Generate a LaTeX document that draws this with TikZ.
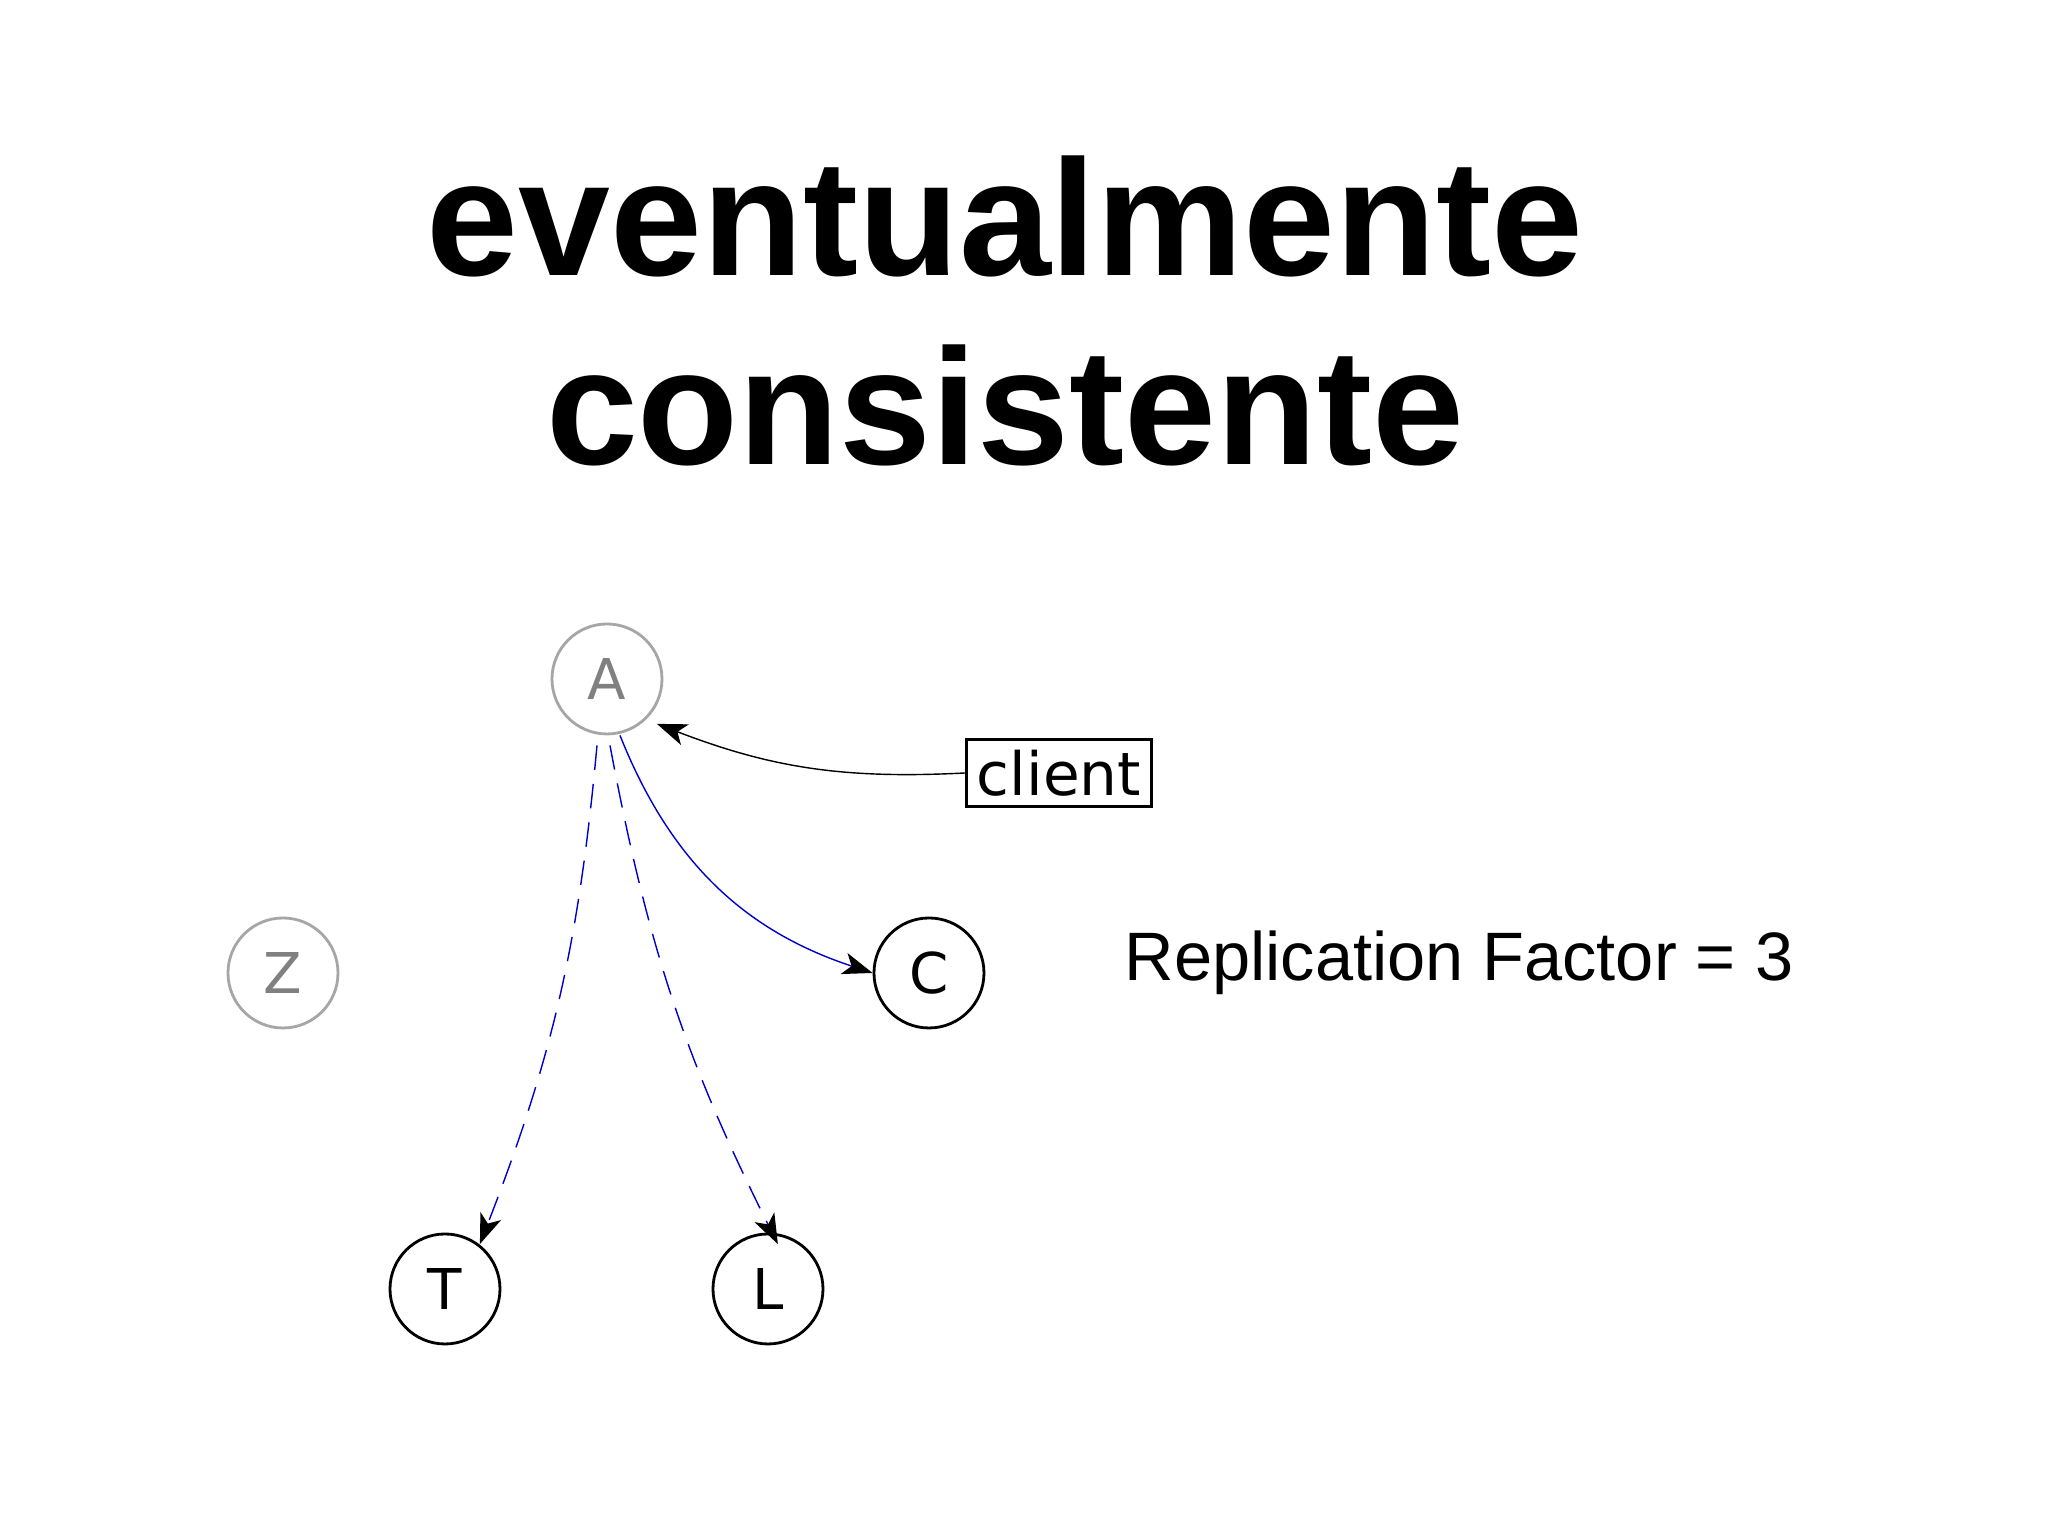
\documentclass[tikz,border=0pt]{standalone}
\usepackage{fontspec}
\setmainfont{Liberation Sans}
\newfontfamily\dejavu{DejaVu Sans}
\usetikzlibrary{positioning,arrows.meta}
\begin{document}
\begin{tikzpicture}
    % Define styles
    \tikzstyle{peer} = [circle, draw, thick, minimum size=1.1cm, inner sep=0pt, font=\dejavu\fontsize{16}{16}\selectfont]
    \tikzstyle{faded} = [peer, draw=gray!70, text=gray]
    \tikzstyle{arrow} = [-{Stealth[length=0.3cm, width=0.22cm, inset=0.08cm, color=black]}, thin]
    \tikzstyle{longdash} = [dash pattern=on 7pt off 4pt]
    \useasboundingbox (0,0) rectangle (20.48,15.36);

    % Title
    \node[font=\bfseries\fontsize{47}{54}\selectfont, align=center] (title) at (10.05,12.25) {eventualmente\\consistente};

    % Peers
    \node[faded] (a) at (6.07,8.57) {A};
    \node[faded] (z) at (2.83,5.63) {Z};
    \node[peer] (c) at (9.29,5.63) {C};
    \node[peer] (t) at (4.45,2.47) {T};
    \node[peer] (l) at (7.68,2.47) {L};
    \node[draw, thick, font=\dejavu\fontsize{17}{17}\selectfont, inner sep=3pt] (client) at (10.59,7.63) {client};
    \node[font=\fontsize{19.5}{20}\selectfont] (rf) at (14.59,5.73) {Replication Factor = 3};

    % Arrows
    \draw[arrow] (client.west) to[bend left=12] ([shift={(0.1,-0.05)}]a.south east);
    \draw[arrow, blue!80!black] ([xshift=0.13cm]a.south) to[bend right=25] (c.west);
    \draw[arrow, blue!80!black, longdash] ([shift={(-0.1,-0.1)}]a.south) to[bend left=8] ([shift={(-0.05,0.05)}]t.north east);
    \draw[arrow, blue!80!black, longdash] ([shift={(0.03,-0.1)}]a.south) to[bend right=8] ([shift={(-0.3,0.05)}]l.north east);
\end{tikzpicture}
\end{document}
